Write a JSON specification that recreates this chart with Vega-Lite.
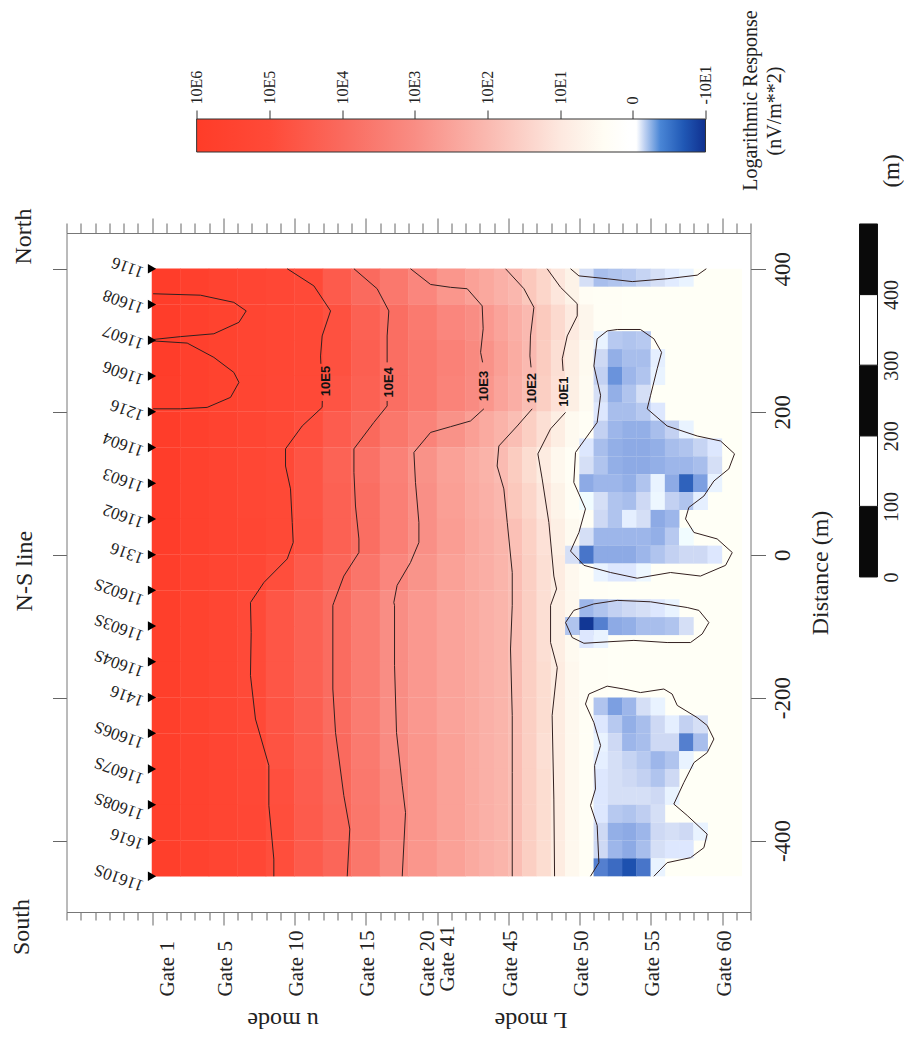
{"$schema":"https://vega.github.io/schema/vega-lite/v6.json","background":"white","padding":{"left":9.5,"top":10,"right":4,"bottom":8},"autosize":{"type":"pad"},"config":{"view":{"stroke":null},"font":"Liberation Serif","axis":{"grid":false,"title":null,"labelFont":"Liberation Serif","titleFont":"Liberation Serif","labelColor":"#222","titleColor":"#222","titleFontWeight":"normal","domainColor":"#777","tickColor":"#666","labelOverlap":false,"labelBound":false,"labelFlush":false},"text":{"font":"Liberation Serif","color":"#222"}},
"datasets":{
"bg":[{"a":39,"b":47.4,"t":400,"u":-450,"v":0.07}],
"red":[
{"p":7,"d":375,"v":5.9},{"p":9,"d":375,"v":5.7},{"p":11,"d":375,"v":5.5},{"p":13,"d":375,"v":5.35},{"p":15,"d":375,"v":5.2},{"p":17,"d":375,"v":5},{"p":19,"d":375,"v":4.5},{"p":21,"d":375,"v":4},{"p":23,"d":375,"v":3.6},{"p":25,"d":375,"v":3.2},{"p":27,"d":375,"v":2.8},
{"p":7,"d":325,"v":5.9},{"p":9,"d":325,"v":5.7},{"p":11,"d":325,"v":5.55},{"p":13,"d":325,"v":5.4},{"p":15,"d":325,"v":5.25},{"p":17,"d":325,"v":5.1},{"p":19,"d":325,"v":4.8},{"p":21,"d":325,"v":4.3},{"p":23,"d":325,"v":3.9},{"p":25,"d":325,"v":3.55},{"p":27,"d":325,"v":3.2},
{"p":7,"d":275,"v":5.9},{"p":9,"d":275,"v":5.7},{"p":11,"d":275,"v":5.55},{"p":13,"d":275,"v":5.4},{"p":15,"d":275,"v":5.25},{"p":17,"d":275,"v":5.1},{"p":19,"d":275,"v":4.8},{"p":21,"d":275,"v":4.35},{"p":23,"d":275,"v":3.9},{"p":25,"d":275,"v":3.6},{"p":27,"d":275,"v":3.35},
{"p":7,"d":225,"v":5.85},{"p":9,"d":225,"v":5.7},{"p":11,"d":225,"v":5.55},{"p":13,"d":225,"v":5.4},{"p":15,"d":225,"v":5.2},{"p":17,"d":225,"v":5.05},{"p":19,"d":225,"v":4.7},{"p":21,"d":225,"v":4.3},{"p":23,"d":225,"v":3.9},{"p":25,"d":225,"v":3.6},{"p":27,"d":225,"v":3.3},
{"p":7,"d":175,"v":5.9},{"p":9,"d":175,"v":5.7},{"p":11,"d":175,"v":5.5},{"p":13,"d":175,"v":5.3},{"p":15,"d":175,"v":5.1},{"p":17,"d":175,"v":4.85},{"p":19,"d":175,"v":4.45},{"p":21,"d":175,"v":4.05},{"p":23,"d":175,"v":3.65},{"p":25,"d":175,"v":3.3},{"p":27,"d":175,"v":2.9},
{"p":7,"d":125,"v":5.9},{"p":9,"d":125,"v":5.65},{"p":11,"d":125,"v":5.45},{"p":13,"d":125,"v":5.25},{"p":15,"d":125,"v":5.05},{"p":17,"d":125,"v":4.7},{"p":19,"d":125,"v":4.25},{"p":21,"d":125,"v":3.8},{"p":23,"d":125,"v":3.35},{"p":25,"d":125,"v":2.9},{"p":27,"d":125,"v":2.55},
{"p":7,"d":75,"v":5.9},{"p":9,"d":75,"v":5.65},{"p":11,"d":75,"v":5.45},{"p":13,"d":75,"v":5.25},{"p":15,"d":75,"v":5.1},{"p":17,"d":75,"v":4.7},{"p":19,"d":75,"v":4.3},{"p":21,"d":75,"v":3.9},{"p":23,"d":75,"v":3.4},{"p":25,"d":75,"v":2.95},{"p":27,"d":75,"v":2.6},
{"p":7,"d":25,"v":5.9},{"p":9,"d":25,"v":5.65},{"p":11,"d":25,"v":5.45},{"p":13,"d":25,"v":5.3},{"p":15,"d":25,"v":5.1},{"p":17,"d":25,"v":4.75},{"p":19,"d":25,"v":4.3},{"p":21,"d":25,"v":3.9},{"p":23,"d":25,"v":3.4},{"p":25,"d":25,"v":2.95},{"p":27,"d":25,"v":2.65},
{"p":7,"d":-25,"v":5.85},{"p":9,"d":-25,"v":5.6},{"p":11,"d":-25,"v":5.4},{"p":13,"d":-25,"v":5.2},{"p":15,"d":-25,"v":4.9},{"p":17,"d":-25,"v":4.5},{"p":19,"d":-25,"v":4.15},{"p":21,"d":-25,"v":3.7},{"p":23,"d":-25,"v":3.2},{"p":25,"d":-25,"v":2.85},{"p":27,"d":-25,"v":2.55},
{"p":7,"d":-75,"v":5.8},{"p":9,"d":-75,"v":5.55},{"p":11,"d":-75,"v":5.3},{"p":13,"d":-75,"v":5},{"p":15,"d":-75,"v":4.65},{"p":17,"d":-75,"v":4.3},{"p":19,"d":-75,"v":3.95},{"p":21,"d":-75,"v":3.5},{"p":23,"d":-75,"v":3},{"p":25,"d":-75,"v":2.75},{"p":27,"d":-75,"v":2.5},
{"p":7,"d":-125,"v":5.8},{"p":9,"d":-125,"v":5.55},{"p":11,"d":-125,"v":5.3},{"p":13,"d":-125,"v":5},{"p":15,"d":-125,"v":4.65},{"p":17,"d":-125,"v":4.3},{"p":19,"d":-125,"v":3.95},{"p":21,"d":-125,"v":3.5},{"p":23,"d":-125,"v":3},{"p":25,"d":-125,"v":2.75},{"p":27,"d":-125,"v":2.5},
{"p":7,"d":-175,"v":5.8},{"p":9,"d":-175,"v":5.55},{"p":11,"d":-175,"v":5.3},{"p":13,"d":-175,"v":5},{"p":15,"d":-175,"v":4.65},{"p":17,"d":-175,"v":4.3},{"p":19,"d":-175,"v":3.95},{"p":21,"d":-175,"v":3.5},{"p":23,"d":-175,"v":3},{"p":25,"d":-175,"v":2.75},{"p":27,"d":-175,"v":2.5},
{"p":7,"d":-225,"v":5.8},{"p":9,"d":-225,"v":5.55},{"p":11,"d":-225,"v":5.3},{"p":13,"d":-225,"v":5.05},{"p":15,"d":-225,"v":4.7},{"p":17,"d":-225,"v":4.35},{"p":19,"d":-225,"v":3.95},{"p":21,"d":-225,"v":3.5},{"p":23,"d":-225,"v":3},{"p":25,"d":-225,"v":2.75},{"p":27,"d":-225,"v":2.5},
{"p":7,"d":-275,"v":5.8},{"p":9,"d":-275,"v":5.6},{"p":11,"d":-275,"v":5.35},{"p":13,"d":-275,"v":5.1},{"p":15,"d":-275,"v":4.75},{"p":17,"d":-275,"v":4.4},{"p":19,"d":-275,"v":4},{"p":21,"d":-275,"v":3.55},{"p":23,"d":-275,"v":3.05},{"p":25,"d":-275,"v":2.8},{"p":27,"d":-275,"v":2.55},
{"p":7,"d":-325,"v":5.8},{"p":9,"d":-325,"v":5.6},{"p":11,"d":-325,"v":5.4},{"p":13,"d":-325,"v":5.15},{"p":15,"d":-325,"v":4.85},{"p":17,"d":-325,"v":4.45},{"p":19,"d":-325,"v":4.05},{"p":21,"d":-325,"v":3.6},{"p":23,"d":-325,"v":3.15},{"p":25,"d":-325,"v":2.8},{"p":27,"d":-325,"v":2.55},
{"p":7,"d":-375,"v":5.8},{"p":9,"d":-375,"v":5.6},{"p":11,"d":-375,"v":5.4},{"p":13,"d":-375,"v":5.2},{"p":15,"d":-375,"v":4.9},{"p":17,"d":-375,"v":4.5},{"p":19,"d":-375,"v":4.1},{"p":21,"d":-375,"v":3.65},{"p":23,"d":-375,"v":3.2},{"p":25,"d":-375,"v":2.8},{"p":27,"d":-375,"v":2.55},
{"p":7,"d":-425,"v":5.8},{"p":9,"d":-425,"v":5.6},{"p":11,"d":-425,"v":5.4},{"p":13,"d":-425,"v":5.2},{"p":15,"d":-425,"v":4.9},{"p":17,"d":-425,"v":4.5},{"p":19,"d":-425,"v":4.15},{"p":21,"d":-425,"v":3.65},{"p":23,"d":-425,"v":3.1},{"p":25,"d":-425,"v":2.8},{"p":27,"d":-425,"v":2.55}],
"mid":[
{"p":28.5,"d":375,"v":2.55},{"p":29.5,"d":375,"v":2.4},{"p":30.5,"d":375,"v":2.2},{"p":31.5,"d":375,"v":2.05},{"p":32.5,"d":375,"v":1.7},{"p":33.5,"d":375,"v":1.4},{"p":34.5,"d":375,"v":1.05},{"p":35.5,"d":375,"v":0.7},{"p":36.5,"d":375,"v":0.4},{"p":37.5,"d":375,"v":0.25},{"p":38.5,"d":375,"v":0.15},
{"p":28.5,"d":325,"v":3},{"p":29.5,"d":325,"v":2.75},{"p":30.5,"d":325,"v":2.5},{"p":31.5,"d":325,"v":2.25},{"p":32.5,"d":325,"v":2},{"p":33.5,"d":325,"v":1.65},{"p":34.5,"d":325,"v":1.3},{"p":35.5,"d":325,"v":0.95},{"p":36.5,"d":325,"v":0.6},{"p":37.5,"d":325,"v":0.3},{"p":38.5,"d":325,"v":0.15},
{"p":28.5,"d":275,"v":3.1},{"p":29.5,"d":275,"v":2.9},{"p":30.5,"d":275,"v":2.6},{"p":31.5,"d":275,"v":2.3},{"p":32.5,"d":275,"v":2},{"p":33.5,"d":275,"v":1.6},{"p":34.5,"d":275,"v":1.2},{"p":35.5,"d":275,"v":0.85},{"p":36.5,"d":275,"v":0.5},{"p":37.5,"d":275,"v":0.2},{"p":38.5,"d":275,"v":0.1},
{"p":28.5,"d":225,"v":3.05},{"p":29.5,"d":225,"v":2.8},{"p":30.5,"d":225,"v":2.5},{"p":31.5,"d":225,"v":2.25},{"p":32.5,"d":225,"v":1.9},{"p":33.5,"d":225,"v":1.55},{"p":34.5,"d":225,"v":1.15},{"p":35.5,"d":225,"v":0.8},{"p":36.5,"d":225,"v":0.45},{"p":37.5,"d":225,"v":0.2},{"p":38.5,"d":225,"v":0.1},
{"p":28.5,"d":175,"v":2.6},{"p":29.5,"d":175,"v":2.35},{"p":30.5,"d":175,"v":2.15},{"p":31.5,"d":175,"v":1.9},{"p":32.5,"d":175,"v":1.55},{"p":33.5,"d":175,"v":1.2},{"p":34.5,"d":175,"v":0.85},{"p":35.5,"d":175,"v":0.5},{"p":36.5,"d":175,"v":0.25},{"p":37.5,"d":175,"v":0.1},{"p":38.5,"d":175,"v":0.08},
{"p":28.5,"d":125,"v":2.3},{"p":29.5,"d":125,"v":2.15},{"p":30.5,"d":125,"v":1.95},{"p":31.5,"d":125,"v":1.6},{"p":32.5,"d":125,"v":1.25},{"p":33.5,"d":125,"v":0.9},{"p":34.5,"d":125,"v":0.55},{"p":35.5,"d":125,"v":0.3},{"p":36.5,"d":125,"v":0.12},{"p":37.5,"d":125,"v":0.08},{"p":38.5,"d":125,"v":0.05},
{"p":28.5,"d":75,"v":2.35},{"p":29.5,"d":75,"v":2.2},{"p":30.5,"d":75,"v":2.05},{"p":31.5,"d":75,"v":1.7},{"p":32.5,"d":75,"v":1.4},{"p":33.5,"d":75,"v":1.05},{"p":34.5,"d":75,"v":0.7},{"p":35.5,"d":75,"v":0.4},{"p":36.5,"d":75,"v":0.2},{"p":37.5,"d":75,"v":0.1},{"p":38.5,"d":75,"v":0.08},
{"p":28.5,"d":25,"v":2.4},{"p":29.5,"d":25,"v":2.25},{"p":30.5,"d":25,"v":2.1},{"p":31.5,"d":25,"v":1.85},{"p":32.5,"d":25,"v":1.5},{"p":33.5,"d":25,"v":1.15},{"p":34.5,"d":25,"v":0.8},{"p":35.5,"d":25,"v":0.5},{"p":36.5,"d":25,"v":0.25},{"p":37.5,"d":25,"v":0.1},{"p":38.5,"d":25,"v":0.08},
{"p":28.5,"d":-25,"v":2.35},{"p":29.5,"d":-25,"v":2.25},{"p":30.5,"d":-25,"v":2.1},{"p":31.5,"d":-25,"v":1.9},{"p":32.5,"d":-25,"v":1.55},{"p":33.5,"d":-25,"v":1.2},{"p":34.5,"d":-25,"v":0.9},{"p":35.5,"d":-25,"v":0.55},{"p":36.5,"d":-25,"v":0.3},{"p":37.5,"d":-25,"v":0.15},{"p":38.5,"d":-25,"v":0.1},
{"p":28.5,"d":-75,"v":2.35},{"p":29.5,"d":-75,"v":2.2},{"p":30.5,"d":-75,"v":2.1},{"p":31.5,"d":-75,"v":1.9},{"p":32.5,"d":-75,"v":1.55},{"p":33.5,"d":-75,"v":1.2},{"p":34.5,"d":-75,"v":0.85},{"p":35.5,"d":-75,"v":0.55},{"p":36.5,"d":-75,"v":0.3},{"p":37.5,"d":-75,"v":0.15},{"p":38.5,"d":-75,"v":0.1},
{"p":28.5,"d":-125,"v":2.35},{"p":29.5,"d":-125,"v":2.2},{"p":30.5,"d":-125,"v":2.1},{"p":31.5,"d":-125,"v":1.9},{"p":32.5,"d":-125,"v":1.55},{"p":33.5,"d":-125,"v":1.2},{"p":34.5,"d":-125,"v":0.85},{"p":35.5,"d":-125,"v":0.5},{"p":36.5,"d":-125,"v":0.3},{"p":37.5,"d":-125,"v":0.15},{"p":38.5,"d":-125,"v":0.1},
{"p":28.5,"d":-175,"v":2.35},{"p":29.5,"d":-175,"v":2.2},{"p":30.5,"d":-175,"v":2.1},{"p":31.5,"d":-175,"v":1.9},{"p":32.5,"d":-175,"v":1.55},{"p":33.5,"d":-175,"v":1.25},{"p":34.5,"d":-175,"v":0.9},{"p":35.5,"d":-175,"v":0.55},{"p":36.5,"d":-175,"v":0.3},{"p":37.5,"d":-175,"v":0.15},{"p":38.5,"d":-175,"v":0.1},
{"p":28.5,"d":-225,"v":2.35},{"p":29.5,"d":-225,"v":2.2},{"p":30.5,"d":-225,"v":2.1},{"p":31.5,"d":-225,"v":1.9},{"p":32.5,"d":-225,"v":1.55},{"p":33.5,"d":-225,"v":1.25},{"p":34.5,"d":-225,"v":0.9},{"p":35.5,"d":-225,"v":0.55},{"p":36.5,"d":-225,"v":0.3},{"p":37.5,"d":-225,"v":0.15},{"p":38.5,"d":-225,"v":0.1},
{"p":28.5,"d":-275,"v":2.35},{"p":29.5,"d":-275,"v":2.2},{"p":30.5,"d":-275,"v":2.1},{"p":31.5,"d":-275,"v":1.9},{"p":32.5,"d":-275,"v":1.55},{"p":33.5,"d":-275,"v":1.2},{"p":34.5,"d":-275,"v":0.9},{"p":35.5,"d":-275,"v":0.55},{"p":36.5,"d":-275,"v":0.3},{"p":37.5,"d":-275,"v":0.15},{"p":38.5,"d":-275,"v":0.1},
{"p":28.5,"d":-325,"v":2.35},{"p":29.5,"d":-325,"v":2.2},{"p":30.5,"d":-325,"v":2.1},{"p":31.5,"d":-325,"v":1.9},{"p":32.5,"d":-325,"v":1.55},{"p":33.5,"d":-325,"v":1.25},{"p":34.5,"d":-325,"v":0.9},{"p":35.5,"d":-325,"v":0.55},{"p":36.5,"d":-325,"v":0.3},{"p":37.5,"d":-325,"v":0.15},{"p":38.5,"d":-325,"v":0.1},
{"p":28.5,"d":-375,"v":2.35},{"p":29.5,"d":-375,"v":2.2},{"p":30.5,"d":-375,"v":2.1},{"p":31.5,"d":-375,"v":1.9},{"p":32.5,"d":-375,"v":1.55},{"p":33.5,"d":-375,"v":1.25},{"p":34.5,"d":-375,"v":0.9},{"p":35.5,"d":-375,"v":0.55},{"p":36.5,"d":-375,"v":0.3},{"p":37.5,"d":-375,"v":0.15},{"p":38.5,"d":-375,"v":0.1},
{"p":28.5,"d":-425,"v":2.35},{"p":29.5,"d":-425,"v":2.2},{"p":30.5,"d":-425,"v":2.1},{"p":31.5,"d":-425,"v":1.9},{"p":32.5,"d":-425,"v":1.55},{"p":33.5,"d":-425,"v":1.25},{"p":34.5,"d":-425,"v":0.9},{"p":35.5,"d":-425,"v":0.55},{"p":36.5,"d":-425,"v":0.3},{"p":37.5,"d":-425,"v":0.15},{"p":38.5,"d":-425,"v":0.1}],
"blue":[
{"p":36.5,"d":387.5,"v":-0.1},{"p":37.5,"d":387.5,"v":-0.22},{"p":38.5,"d":387.5,"v":-0.2},{"p":39.5,"d":387.5,"v":-0.18},{"p":40.5,"d":387.5,"v":-0.14},{"p":41.5,"d":387.5,"v":-0.1},{"p":42.5,"d":387.5,"v":-0.07},{"p":43.5,"d":387.5,"v":-0.05},
{"p":37.5,"d":300,"v":-0.05},{"p":38.5,"d":300,"v":-0.18},{"p":39.5,"d":300,"v":-0.2},{"p":40.5,"d":300,"v":-0.18},
{"p":37.5,"d":275,"v":-0.12},{"p":38.5,"d":275,"v":-0.28},{"p":39.5,"d":275,"v":-0.22},{"p":40.5,"d":275,"v":-0.22},{"p":41.5,"d":275,"v":-0.06},
{"p":37.5,"d":250,"v":-0.15},{"p":38.5,"d":250,"v":-0.4},{"p":39.5,"d":250,"v":-0.25},{"p":40.5,"d":250,"v":-0.2},{"p":41.5,"d":250,"v":-0.05},
{"p":37.5,"d":225,"v":-0.1},{"p":38.5,"d":225,"v":-0.28},{"p":39.5,"d":225,"v":-0.2},{"p":40.5,"d":225,"v":-0.1},
{"p":37.5,"d":200,"v":-0.08},{"p":38.5,"d":200,"v":-0.22},{"p":39.5,"d":200,"v":-0.22},{"p":40.5,"d":200,"v":-0.18},{"p":41.5,"d":200,"v":-0.08},
{"p":37.5,"d":175,"v":-0.15},{"p":38.5,"d":175,"v":-0.25},{"p":39.5,"d":175,"v":-0.28},{"p":40.5,"d":175,"v":-0.28},{"p":41.5,"d":175,"v":-0.22},{"p":42.5,"d":175,"v":-0.15},{"p":43.5,"d":175,"v":-0.05},
{"p":36.5,"d":150,"v":-0.08},{"p":37.5,"d":150,"v":-0.22},{"p":38.5,"d":150,"v":-0.28},{"p":39.5,"d":150,"v":-0.3},{"p":40.5,"d":150,"v":-0.3},{"p":41.5,"d":150,"v":-0.28},{"p":42.5,"d":150,"v":-0.22},{"p":43.5,"d":150,"v":-0.2},{"p":44.5,"d":150,"v":-0.14},{"p":45.5,"d":150,"v":-0.08},
{"p":36.5,"d":125,"v":-0.1},{"p":37.5,"d":125,"v":-0.2},{"p":38.5,"d":125,"v":-0.28},{"p":39.5,"d":125,"v":-0.3},{"p":40.5,"d":125,"v":-0.3},{"p":41.5,"d":125,"v":-0.28},{"p":42.5,"d":125,"v":-0.25},{"p":43.5,"d":125,"v":-0.25},{"p":44.5,"d":125,"v":-0.22},{"p":45.5,"d":125,"v":-0.1},
{"p":36.5,"d":100,"v":-0.3},{"p":37.5,"d":100,"v":-0.25},{"p":38.5,"d":100,"v":-0.25},{"p":39.5,"d":100,"v":-0.28},{"p":40.5,"d":100,"v":-0.2},{"p":41.5,"d":100,"v":-0.05},{"p":42.5,"d":100,"v":-0.3},{"p":43.5,"d":100,"v":-0.65},{"p":44.5,"d":100,"v":-0.35},{"p":45.5,"d":100,"v":-0.05},
{"p":36.5,"d":75,"v":-0.03},{"p":37.5,"d":75,"v":-0.1},{"p":38.5,"d":75,"v":-0.2},{"p":39.5,"d":75,"v":-0.22},{"p":40.5,"d":75,"v":-0.12},{"p":41.5,"d":75,"v":-0.04},{"p":42.5,"d":75,"v":-0.15},{"p":43.5,"d":75,"v":-0.2},{"p":44.5,"d":75,"v":-0.06},
{"p":37.5,"d":50,"v":-0.12},{"p":38.5,"d":50,"v":-0.2},{"p":39.5,"d":50,"v":-0.06},{"p":40.5,"d":50,"v":-0.1},{"p":41.5,"d":50,"v":-0.3},{"p":42.5,"d":50,"v":-0.25},
{"p":36.5,"d":25,"v":-0.1},{"p":37.5,"d":25,"v":-0.25},{"p":38.5,"d":25,"v":-0.25},{"p":39.5,"d":25,"v":-0.25},{"p":40.5,"d":25,"v":-0.25},{"p":41.5,"d":25,"v":-0.28},{"p":42.5,"d":25,"v":-0.18},{"p":43.5,"d":25,"v":-0.03},
{"p":35.5,"d":0,"v":-0.1},{"p":36.5,"d":0,"v":-0.55},{"p":37.5,"d":0,"v":-0.3},{"p":38.5,"d":0,"v":-0.3},{"p":39.5,"d":0,"v":-0.3},{"p":40.5,"d":0,"v":-0.25},{"p":41.5,"d":0,"v":-0.2},{"p":42.5,"d":0,"v":-0.15},{"p":43.5,"d":0,"v":-0.12},{"p":44.5,"d":0,"v":-0.12},{"p":45.5,"d":0,"v":-0.08},
{"p":37.5,"d":-25,"v":-0.05},{"p":38.5,"d":-25,"v":-0.08},{"p":39.5,"d":-25,"v":-0.08},{"p":40.5,"d":-25,"v":-0.04},
{"p":36.5,"d":-75,"v":-0.25},{"p":37.5,"d":-75,"v":-0.2},{"p":38.5,"d":-75,"v":-0.15},{"p":39.5,"d":-75,"v":-0.12},{"p":40.5,"d":-75,"v":-0.1},{"p":41.5,"d":-75,"v":-0.08},{"p":42.5,"d":-75,"v":-0.05},
{"p":35.5,"d":-100,"v":-0.2},{"p":36.5,"d":-100,"v":-0.95},{"p":37.5,"d":-100,"v":-0.5},{"p":38.5,"d":-100,"v":-0.3},{"p":39.5,"d":-100,"v":-0.28},{"p":40.5,"d":-100,"v":-0.22},{"p":41.5,"d":-100,"v":-0.22},{"p":42.5,"d":-100,"v":-0.2},{"p":43.5,"d":-100,"v":-0.1},
{"p":36.5,"d":-118,"v":-0.08},{"p":37.5,"d":-118,"v":-0.05},
{"p":37.5,"d":-212.5,"v":-0.2},{"p":38.5,"d":-212.5,"v":-0.35},{"p":39.5,"d":-212.5,"v":-0.25},{"p":40.5,"d":-212.5,"v":-0.1},{"p":41.5,"d":-212.5,"v":-0.05},
{"p":37.5,"d":-237.5,"v":-0.08},{"p":38.5,"d":-237.5,"v":-0.18},{"p":39.5,"d":-237.5,"v":-0.28},{"p":40.5,"d":-237.5,"v":-0.22},{"p":41.5,"d":-237.5,"v":-0.12},{"p":42.5,"d":-237.5,"v":-0.06},{"p":43.5,"d":-237.5,"v":-0.15},{"p":44.5,"d":-237.5,"v":-0.1},
{"p":37.5,"d":-262.5,"v":-0.05},{"p":38.5,"d":-262.5,"v":-0.12},{"p":39.5,"d":-262.5,"v":-0.25},{"p":40.5,"d":-262.5,"v":-0.22},{"p":41.5,"d":-262.5,"v":-0.12},{"p":42.5,"d":-262.5,"v":-0.12},{"p":43.5,"d":-262.5,"v":-0.5},{"p":44.5,"d":-262.5,"v":-0.22},
{"p":37.5,"d":-287.5,"v":-0.06},{"p":38.5,"d":-287.5,"v":-0.1},{"p":39.5,"d":-287.5,"v":-0.14},{"p":40.5,"d":-287.5,"v":-0.18},{"p":41.5,"d":-287.5,"v":-0.25},{"p":42.5,"d":-287.5,"v":-0.2},{"p":43.5,"d":-287.5,"v":-0.05},
{"p":37.5,"d":-312.5,"v":-0.08},{"p":38.5,"d":-312.5,"v":-0.1},{"p":39.5,"d":-312.5,"v":-0.12},{"p":40.5,"d":-312.5,"v":-0.15},{"p":41.5,"d":-312.5,"v":-0.2},{"p":42.5,"d":-312.5,"v":-0.12},
{"p":37.5,"d":-337.5,"v":-0.08},{"p":38.5,"d":-337.5,"v":-0.1},{"p":39.5,"d":-337.5,"v":-0.1},{"p":40.5,"d":-337.5,"v":-0.1},{"p":41.5,"d":-337.5,"v":-0.12},{"p":42.5,"d":-337.5,"v":-0.05},
{"p":37.5,"d":-362.5,"v":-0.08},{"p":38.5,"d":-362.5,"v":-0.18},{"p":39.5,"d":-362.5,"v":-0.2},{"p":40.5,"d":-362.5,"v":-0.16},{"p":41.5,"d":-362.5,"v":-0.1},
{"p":37.5,"d":-387.5,"v":-0.12},{"p":38.5,"d":-387.5,"v":-0.28},{"p":39.5,"d":-387.5,"v":-0.3},{"p":40.5,"d":-387.5,"v":-0.25},{"p":41.5,"d":-387.5,"v":-0.12},{"p":42.5,"d":-387.5,"v":-0.1},{"p":43.5,"d":-387.5,"v":-0.12},{"p":44.5,"d":-387.5,"v":-0.05},
{"p":37.5,"d":-412.5,"v":-0.12},{"p":38.5,"d":-412.5,"v":-0.25},{"p":39.5,"d":-412.5,"v":-0.3},{"p":40.5,"d":-412.5,"v":-0.22},{"p":41.5,"d":-412.5,"v":-0.1},{"p":42.5,"d":-412.5,"v":-0.08},{"p":43.5,"d":-412.5,"v":-0.08},
{"p":37.5,"d":-437.5,"v":-0.5},{"p":38.5,"d":-437.5,"v":-0.6},{"p":39.5,"d":-437.5,"v":-0.75},{"p":40.5,"d":-437.5,"v":-0.55},{"p":41.5,"d":-437.5,"v":-0.05}],
"contours":[
{"c":"e6a","i":0,"p":6.08,"d":365},{"c":"e6a","i":1,"p":9.4,"d":363},{"c":"e6a","i":2,"p":11.74,"d":353},{"c":"e6a","i":3,"p":12.61,"d":341},{"c":"e6a","i":4,"p":12.1,"d":325},{"c":"e6a","i":5,"p":10.34,"d":309},{"c":"e6a","i":6,"p":8,"d":305},{"c":"e6a","i":7,"p":6.08,"d":301},
{"c":"e6b","i":0,"p":6.08,"d":299},{"c":"e6b","i":1,"p":8.47,"d":296},{"c":"e6b","i":2,"p":10.34,"d":276},{"c":"e6b","i":3,"p":11.74,"d":255},{"c":"e6b","i":4,"p":12.1,"d":241},{"c":"e6b","i":5,"p":11.51,"d":220},{"c":"e6b","i":6,"p":9.87,"d":206},{"c":"e6b","i":7,"p":8,"d":204},{"c":"e6b","i":8,"p":6.08,"d":204},
{"c":"e5a","i":0,"p":15.49,"d":400},{"c":"e5a","i":1,"p":17.36,"d":376},{"c":"e5a","i":2,"p":18.53,"d":341},{"c":"e5a","i":3,"p":17.94,"d":306},{"c":"e5a","i":4,"p":17.83,"d":278},{"c":"e5a","i":5,"p":17.85,"d":267},
{"c":"e5b","i":0,"p":17.95,"d":215},{"c":"e5b","i":1,"p":17.94,"d":206},{"c":"e5b","i":2,"p":16.54,"d":180},{"c":"e5b","i":3,"p":15.37,"d":148},{"c":"e5b","i":4,"p":15.37,"d":124},{"c":"e5b","i":5,"p":15.72,"d":92},{"c":"e5b","i":6,"p":15.84,"d":45},{"c":"e5b","i":7,"p":15.91,"d":17},{"c":"e5b","i":8,"p":15.49,"d":-6},{"c":"e5b","i":9,"p":13.85,"d":-39},{"c":"e5b","i":10,"p":12.91,"d":-67},{"c":"e5b","i":11,"p":12.96,"d":-109},{"c":"e5b","i":12,"p":12.91,"d":-169},{"c":"e5b","i":13,"p":13.26,"d":-230},{"c":"e5b","i":14,"p":14.2,"d":-295},{"c":"e5b","i":15,"p":14.2,"d":-351},{"c":"e5b","i":16,"p":14.55,"d":-426},{"c":"e5b","i":17,"p":14.55,"d":-450},
{"c":"e4a","i":0,"p":20.17,"d":400},{"c":"e4a","i":1,"p":21.8,"d":372},{"c":"e4a","i":2,"p":22.62,"d":341},{"c":"e4a","i":3,"p":22.5,"d":306},{"c":"e4a","i":4,"p":22.5,"d":269},
{"c":"e4b","i":0,"p":22.5,"d":215},{"c":"e4b","i":1,"p":22.5,"d":208},{"c":"e4b","i":2,"p":21.57,"d":185},{"c":"e4b","i":3,"p":20.17,"d":148},{"c":"e4b","i":4,"p":20.17,"d":115},{"c":"e4b","i":5,"p":20.28,"d":68},{"c":"e4b","i":6,"p":20.52,"d":22},{"c":"e4b","i":7,"p":20.52,"d":3},{"c":"e4b","i":8,"p":19.46,"d":-30},{"c":"e4b","i":9,"p":18.76,"d":-67},{"c":"e4b","i":10,"p":18.69,"d":-71},{"c":"e4b","i":11,"p":18.69,"d":-188},{"c":"e4b","i":12,"p":18.88,"d":-249},{"c":"e4b","i":13,"p":19.46,"d":-337},{"c":"e4b","i":14,"p":19.88,"d":-384},{"c":"e4b","i":15,"p":19.7,"d":-450},
{"c":"e3a","i":0,"p":24.14,"d":400},{"c":"e3a","i":1,"p":25.55,"d":378},{"c":"e3a","i":2,"p":26.95,"d":374},{"c":"e3a","i":3,"p":28.12,"d":372},{"c":"e3a","i":4,"p":29.17,"d":348},{"c":"e3a","i":5,"p":29.24,"d":316},{"c":"e3a","i":6,"p":29.06,"d":283},{"c":"e3a","i":7,"p":29.2,"d":269},
{"c":"e3b","i":0,"p":29.29,"d":204},{"c":"e3b","i":1,"p":28.35,"d":187},{"c":"e3b","i":2,"p":26.95,"d":179},{"c":"e3b","i":3,"p":25.55,"d":171},{"c":"e3b","i":4,"p":24.38,"d":143},{"c":"e3b","i":5,"p":24.49,"d":101},{"c":"e3b","i":6,"p":24.73,"d":45},{"c":"e3b","i":7,"p":24.73,"d":17},{"c":"e3b","i":8,"p":24.14,"d":-11},{"c":"e3b","i":9,"p":23.2,"d":-43},{"c":"e3b","i":10,"p":22.97,"d":-67},{"c":"e3b","i":11,"p":23.02,"d":-71},{"c":"e3b","i":12,"p":23.02,"d":-155},{"c":"e3b","i":13,"p":23.16,"d":-249},{"c":"e3b","i":14,"p":23.56,"d":-323},{"c":"e3b","i":15,"p":23.79,"d":-361},{"c":"e3b","i":16,"p":23.56,"d":-450},
{"c":"e2a","i":0,"p":30.81,"d":400},{"c":"e2a","i":1,"p":32.1,"d":372},{"c":"e2a","i":2,"p":32.8,"d":346},{"c":"e2a","i":3,"p":32.56,"d":306},{"c":"e2a","i":4,"p":32.52,"d":278},{"c":"e2a","i":5,"p":32.6,"d":262},
{"c":"e2b","i":0,"p":32.68,"d":204},{"c":"e2b","i":1,"p":31.63,"d":180},{"c":"e2b","i":2,"p":30.34,"d":152},{"c":"e2b","i":3,"p":30.22,"d":124},{"c":"e2b","i":4,"p":30.69,"d":92},{"c":"e2b","i":5,"p":30.93,"d":45},{"c":"e2b","i":6,"p":31.28,"d":-25},{"c":"e2b","i":7,"p":31.28,"d":-71},{"c":"e2b","i":8,"p":31.16,"d":-132},{"c":"e2b","i":9,"p":31.28,"d":-225},{"c":"e2b","i":10,"p":31.28,"d":-305},{"c":"e2b","i":11,"p":31.28,"d":-450},
{"c":"e1a","i":0,"p":33.73,"d":400},{"c":"e1a","i":1,"p":34.67,"d":374},{"c":"e1a","i":2,"p":35.84,"d":351},{"c":"e1a","i":3,"p":35.84,"d":334},{"c":"e1a","i":4,"p":35.14,"d":306},{"c":"e1a","i":5,"p":34.79,"d":274},{"c":"e1a","i":6,"p":34.85,"d":257},
{"c":"e1b","i":0,"p":35.02,"d":199},{"c":"e1b","i":1,"p":33.97,"d":176},{"c":"e1b","i":2,"p":33.08,"d":141},{"c":"e1b","i":3,"p":33.38,"d":106},{"c":"e1b","i":4,"p":33.85,"d":45},{"c":"e1b","i":5,"p":34.2,"d":-30},{"c":"e1b","i":6,"p":34.39,"d":-48},{"c":"e1b","i":7,"p":33.97,"d":-71},{"c":"e1b","i":8,"p":33.97,"d":-123},{"c":"e1b","i":9,"p":34.44,"d":-158},{"c":"e1b","i":10,"p":34.08,"d":-225},{"c":"e1b","i":11,"p":34.2,"d":-342},{"c":"e1b","i":12,"p":34.25,"d":-450},
{"c":"z1","i":0,"p":35.37,"d":400},{"c":"z1","i":1,"p":35.96,"d":390},{"c":"z1","i":2,"p":37.94,"d":386},{"c":"z1","i":3,"p":39.7,"d":382},{"c":"z1","i":4,"p":42.15,"d":386},{"c":"z1","i":5,"p":44.26,"d":391},{"c":"z1","i":6,"p":44.9,"d":400},
{"c":"z2","i":0,"p":38.65,"d":315},{"c":"z2","i":1,"p":40.28,"d":315},{"c":"z2","i":2,"p":41.22,"d":302},{"c":"z2","i":3,"p":41.76,"d":283},{"c":"z2","i":4,"p":41.45,"d":260},{"c":"z2","i":5,"p":40.99,"d":223},{"c":"z2","i":6,"p":40.75,"d":204},{"c":"z2","i":7,"p":42.15,"d":180},{"c":"z2","i":8,"p":44.26,"d":166},{"c":"z2","i":9,"p":45.9,"d":159},{"c":"z2","i":10,"p":46.88,"d":141},{"c":"z2","i":11,"p":46.48,"d":120},{"c":"z2","i":12,"p":45.43,"d":103},{"c":"z2","i":13,"p":44.73,"d":82},{"c":"z2","i":14,"p":43.67,"d":66},{"c":"z2","i":15,"p":43.44,"d":50},{"c":"z2","i":16,"p":44.03,"d":31},{"c":"z2","i":17,"p":45.66,"d":22},{"c":"z2","i":18,"p":46.72,"d":3},{"c":"z2","i":19,"p":46.25,"d":-15},{"c":"z2","i":20,"p":44.49,"d":-30},{"c":"z2","i":21,"p":42.39,"d":-25},{"c":"z2","i":22,"p":40.05,"d":-33},{"c":"z2","i":23,"p":38.18,"d":-25},{"c":"z2","i":24,"p":36.31,"d":-15},{"c":"z2","i":25,"p":35.37,"d":5},{"c":"z2","i":26,"p":35.96,"d":31},{"c":"z2","i":27,"p":36.42,"d":64},{"c":"z2","i":28,"p":35.6,"d":101},{"c":"z2","i":29,"p":35.72,"d":143},{"c":"z2","i":30,"p":37.24,"d":185},{"c":"z2","i":31,"p":37.48,"d":223},{"c":"z2","i":32,"p":37.01,"d":264},{"c":"z2","i":33,"p":37.24,"d":302},{"c":"z2","i":34,"p":37.94,"d":313},{"c":"z2","i":35,"p":38.65,"d":315},
{"c":"z3","i":0,"p":35.02,"d":-95},{"c":"z3","i":1,"p":35.6,"d":-78},{"c":"z3","i":2,"p":37,"d":-69},{"c":"z3","i":3,"p":38.65,"d":-64},{"c":"z3","i":4,"p":40.99,"d":-66},{"c":"z3","i":5,"p":43.56,"d":-74},{"c":"z3","i":6,"p":44.38,"d":-78},{"c":"z3","i":7,"p":45.08,"d":-95},{"c":"z3","i":8,"p":44.61,"d":-111},{"c":"z3","i":9,"p":43.79,"d":-123},{"c":"z3","i":10,"p":42.15,"d":-123},{"c":"z3","i":11,"p":39.82,"d":-120},{"c":"z3","i":12,"p":37.94,"d":-122},{"c":"z3","i":13,"p":36.31,"d":-124},{"c":"z3","i":14,"p":35.49,"d":-116},{"c":"z3","i":15,"p":35.02,"d":-95},
{"c":"z4","i":0,"p":36.77,"d":-450},{"c":"z4","i":1,"p":37.36,"d":-431},{"c":"z4","i":2,"p":37.24,"d":-379},{"c":"z4","i":3,"p":36.77,"d":-351},{"c":"z4","i":4,"p":37.12,"d":-328},{"c":"z4","i":5,"p":37.06,"d":-295},{"c":"z4","i":6,"p":37.48,"d":-267},{"c":"z4","i":7,"p":37.01,"d":-235},{"c":"z4","i":8,"p":36.42,"d":-209},{"c":"z4","i":9,"p":36.66,"d":-195},{"c":"z4","i":10,"p":37.94,"d":-184},{"c":"z4","i":11,"p":39.11,"d":-188},{"c":"z4","i":12,"p":40.28,"d":-193},{"c":"z4","i":13,"p":41.92,"d":-188},{"c":"z4","i":14,"p":42.5,"d":-195},{"c":"z4","i":15,"p":42.86,"d":-211},{"c":"z4","i":16,"p":44.26,"d":-228},{"c":"z4","i":17,"p":44.96,"d":-239},{"c":"z4","i":18,"p":45.43,"d":-258},{"c":"z4","i":19,"p":44.96,"d":-277},{"c":"z4","i":20,"p":44.03,"d":-291},{"c":"z4","i":21,"p":43.32,"d":-319},{"c":"z4","i":22,"p":42.62,"d":-349},{"c":"z4","i":23,"p":43.56,"d":-365},{"c":"z4","i":24,"p":44.96,"d":-391},{"c":"z4","i":25,"p":44.73,"d":-410},{"c":"z4","i":26,"p":43.79,"d":-424},{"c":"z4","i":27,"p":42.15,"d":-431},{"c":"z4","i":28,"p":41.22,"d":-450}],
"stations":[{"s":"1116","d":400},{"s":"11608","d":350},{"s":"11607","d":300},{"s":"11606","d":250},{"s":"1216","d":200},{"s":"11604","d":150},{"s":"11603","d":100},{"s":"11602","d":50},{"s":"1316","d":0},{"s":"11602S","d":-50},{"s":"11603S","d":-100},{"s":"11604S","d":-150},{"s":"1416","d":-200},{"s":"11606S","d":-250},{"s":"11607S","d":-300},{"s":"11608S","d":-350},{"s":"1616","d":-400},{"s":"11610S","d":-450}]},
"vconcat":[
{"width":639,"height":33,"resolve":{"axis":{"x":"independent","y":"independent"}},"layer":[
{"data":{"values":[{"a":6,"b":-1}]},"mark":{"type":"rect","stroke":"#333","strokeWidth":1,"color":{"gradient":"linear","x1":0,"y1":0,"x2":1,"y2":0,"stops":[{"offset":0,"color":"#ff3c28"},{"offset":0.143,"color":"#ff4a38"},{"offset":0.286,"color":"#fa6a5e"},{"offset":0.429,"color":"#f98d84"},{"offset":0.571,"color":"#fab9b0"},{"offset":0.714,"color":"#fde8df"},{"offset":0.8,"color":"#fffdf4"},{"offset":0.85,"color":"#ffffff"},{"offset":0.864,"color":"#ffffff"},{"offset":0.88,"color":"#c0d2f2"},{"offset":0.911,"color":"#4a86d6"},{"offset":0.957,"color":"#2058b5"},{"offset":1,"color":"#10308f"}]}},
"encoding":{"x":{"field":"a","type":"quantitative","scale":{"domain":[7.79,-1],"nice":false,"zero":false},"axis":{"orient":"top","values":[6,5,4,3,2,1,0,-1],"domain":false,"tickSize":9,"tickColor":"#333","labelAngle":270,"labelAlign":"left","labelBaseline":"middle","labelPadding":6,"labelFontSize":16,"labelExpr":"datum.value==0?'0':datum.value==-1?'-10E1':'10E'+datum.value"}},"x2":{"field":"b"}}},
{"data":{"values":[{"t":"Logarithmic Response","a":-1.62,"h":51.5},{"t":"(nV/m**2)","a":-1.95,"h":41}]},"mark":{"type":"text","angle":270,"fontSize":20,"align":"center","baseline":"middle"},
"encoding":{"x":{"field":"a","type":"quantitative","scale":{"domain":[7.79,-1],"nice":false,"zero":false},"axis":null},"y":{"field":"h","type":"quantitative","scale":{"domain":[0,33],"nice":false,"zero":false},"axis":null},"text":{"field":"t"}}}]},
{"hconcat":[
{"width":684,"height":679,"resolve":{"axis":{"x":"independent","y":"independent"}},"layer":[
{"data":{"name":"bg"},"mark":{"type":"rect"},"encoding":{
"x":{"field":"a","type":"quantitative","scale":{"domain":[0,48],"nice":false,"zero":false},"axis":{"orient":"bottom","values":[0,1,2,3,4,5,6,7,8,9,10,11,12,13,14,15,16,17,18,19,20,21,22,23,24,25,26,27,28,29,30,31,32,33,34,35,36,37,38,39,40,41,42,43,44,45,46,47,48],"tickSize":{"condition":{"test":"datum.value>=6&&datum.value<=46&&(datum.value-1)%5==0","value":13},"value":8},"labelAngle":270,"labelAlign":"left","labelBaseline":"middle","labelPadding":71,"labelFontSize":21,"labelOffset":{"condition":[{"test":"datum.value==6","value":15},{"test":"datum.value==26","value":-9.5},{"test":"datum.value==27","value":-4}],"value":2},"labelExpr":"datum.value==6?'Gate 1':datum.value==11?'Gate 5':datum.value==16?'Gate 10':datum.value==21?'Gate 15':datum.value==26?'Gate 20':datum.value==27?'Gate 41':datum.value==31?'Gate 45':datum.value==36?'Gate 50':datum.value==41?'Gate 55':datum.value==46?'Gate 60':''"}},"x2":{"field":"b"},
"y":{"field":"t","type":"quantitative","scale":{"domain":[-500,450],"nice":false,"zero":false},"axis":{"orient":"right","values":[-400,-200,0,200,400],"tickSize":15,"labelAngle":270,"labelAlign":"center","labelBaseline":"middle","labelPadding":17,"labelFontSize":23,"labelExpr":"''+datum.value","title":"Distance (m)","titleFontSize":24,"titleAngle":270,"titlePadding":26,"titleAlign":"center","titleBaseline":"middle"}},"y2":{"field":"u"},
"color":{"field":"v","type":"quantitative","legend":null,"scale":{"domain":[6,5,4,3,2,1,0.4,0.05,-0.02,-0.1,-0.25,-0.4,-0.7,-1],"range":["#ff3c28","#ff4a38","#fa6a5e","#f98d84","#fab9b0","#fde8df","#fffdf4","#ffffff","#ffffff","#d5dff6","#9db6ea","#6a93dc","#2058b5","#10308f"]}}}},
{"data":{"name":"red"},"mark":{"type":"rect","width":29,"height":36},"encoding":{"x":{"field":"p","type":"quantitative","scale":{"domain":[0,48],"nice":false,"zero":false},"axis":null},"y":{"field":"d","type":"quantitative","scale":{"domain":[-500,450],"nice":false,"zero":false},"axis":null},"color":{"field":"v","type":"quantitative","legend":null}}},
{"data":{"name":"mid"},"mark":{"type":"rect","width":14.6,"height":36},"encoding":{"x":{"field":"p","type":"quantitative","scale":{"domain":[0,48],"nice":false,"zero":false},"axis":null},"y":{"field":"d","type":"quantitative","scale":{"domain":[-500,450],"nice":false,"zero":false},"axis":null},"color":{"field":"v","type":"quantitative","legend":null}}},
{"data":{"name":"blue"},"mark":{"type":"rect","width":14.6,"height":18},"encoding":{"x":{"field":"p","type":"quantitative","scale":{"domain":[0,48],"nice":false,"zero":false},"axis":null},"y":{"field":"d","type":"quantitative","scale":{"domain":[-500,450],"nice":false,"zero":false},"axis":null},"color":{"field":"v","type":"quantitative","legend":null}}},
{"data":{"name":"contours"},"mark":{"type":"line","color":"#33201f","strokeWidth":1},"encoding":{"x":{"field":"p","type":"quantitative","scale":{"domain":[0,48],"nice":false,"zero":false},"axis":{"orient":"top","values":[0,1,2,3,4,5,6,7,8,9,10,11,12,13,14,15,16,17,18,19,20,21,22,23,24,25,26,27,28,29,30,31,32,33,34,35,36,37,38,39,40,41,42,43,44,45,46,47,48],"labels":false,"tickSize":{"condition":{"test":"datum.value>=6&&datum.value<=46&&(datum.value-1)%5==0","value":15},"value":10}}},"y":{"field":"d","type":"quantitative","scale":{"domain":[-500,450],"nice":false,"zero":false},"axis":{"orient":"left","values":[-400,-200,0,200,400],"labels":false,"tickSize":14}},"detail":{"field":"c"},"order":{"field":"i"}}},
{"data":{"name":"stations"},"mark":{"type":"point","shape":"triangle-right","filled":true,"color":"#000","size":90,"opacity":1},"encoding":{"x":{"datum":6,"type":"quantitative","scale":{"domain":[0,48],"nice":false,"zero":false},"axis":null},"y":{"field":"d","type":"quantitative","scale":{"domain":[-500,450],"nice":false,"zero":false},"axis":null}}},
{"data":{"name":"stations"},"transform":[{"filter":"!test(/S$/,datum.s)"}],"mark":{"type":"text","angle":200,"align":"left","baseline":"middle","fontSize":17,"dx":7.1,"dy":-6.8},"encoding":{"x":{"datum":6,"type":"quantitative","scale":{"domain":[0,48],"nice":false,"zero":false},"axis":null},"y":{"field":"d","type":"quantitative","scale":{"domain":[-500,450],"nice":false,"zero":false},"axis":null},"text":{"field":"s"}}},
{"data":{"name":"stations"},"transform":[{"filter":"test(/S$/,datum.s)"}],"mark":{"type":"text","angle":200,"align":"left","baseline":"middle","fontSize":17,"dx":5,"dy":-12.5},"encoding":{"x":{"datum":6,"type":"quantitative","scale":{"domain":[0,48],"nice":false,"zero":false},"axis":null},"y":{"field":"d","type":"quantitative","scale":{"domain":[-500,450],"nice":false,"zero":false},"axis":null},"text":{"field":"s"}}},
{"data":{"values":[{"t":"10E5","p":18.2,"d":243},{"t":"10E4","p":22.6,"d":241},{"t":"10E3","p":29.3,"d":236},{"t":"10E2","p":32.65,"d":233},{"t":"10E1","p":34.9,"d":228}]},"mark":{"type":"text","font":"Liberation Sans","fontWeight":"bold","fontSize":13,"angle":270,"align":"center","baseline":"middle","color":"#111"},"encoding":{"x":{"field":"p","type":"quantitative","scale":{"domain":[0,48],"nice":false,"zero":false},"axis":null},"y":{"field":"d","type":"quantitative","scale":{"domain":[-500,450],"nice":false,"zero":false},"axis":null},"text":{"field":"t"}}},
{"data":{"values":[{"t":"South","p":-3.09,"d":-521},{"t":"N-S line","p":-2.9,"d":-23},{"t":"North","p":-3,"d":445}]},"mark":{"type":"text","angle":270,"align":"center","baseline":"middle","fontSize":24},"encoding":{"x":{"field":"p","type":"quantitative","scale":{"domain":[0,48],"nice":false,"zero":false},"axis":null},"y":{"field":"d","type":"quantitative","scale":{"domain":[-500,450],"nice":false,"zero":false},"axis":null},"text":{"field":"t"}}},
{"data":{"values":[{"t":"u mode","p":15.2,"d":-651},{"t":"L mode","p":32.6,"d":-651}]},"mark":{"type":"text","angle":180,"align":"center","baseline":"middle","fontSize":24},"encoding":{"x":{"field":"p","type":"quantitative","scale":{"domain":[0,48],"nice":false,"zero":false},"axis":null},"y":{"field":"d","type":"quantitative","scale":{"domain":[-500,450],"nice":false,"zero":false},"axis":null},"text":{"field":"t"}}}
]},
{"width":18,"height":679,"resolve":{"axis":{"x":"independent","y":"independent"}},"layer":[
{"data":{"values":[{"a":0,"b":100,"k":"black"},{"a":100,"b":200,"k":"white"},{"a":200,"b":300,"k":"black"},{"a":300,"b":400,"k":"white"},{"a":400,"b":500,"k":"black"}]},"mark":{"type":"rect","stroke":"#111","strokeWidth":1},"encoding":{"y":{"field":"a","type":"quantitative","scale":{"domain":[-474.5,487.2],"nice":false,"zero":false},"axis":{"orient":"right","values":[0,100,200,300,400,500],"ticks":false,"domain":false,"labelAngle":270,"labelAlign":"center","labelBaseline":"middle","labelPadding":14,"labelFontSize":20}},"y2":{"field":"b"},"color":{"field":"k","type":"nominal","legend":null,"scale":{"domain":["black","white"],"range":["#0a0a0a","#ffffff"]}}}},
{"data":{"values":[{"t":"(m)","h":575,"w":1.83}]},"mark":{"type":"text","angle":270,"align":"center","baseline":"middle","fontSize":23},"encoding":{"y":{"field":"h","type":"quantitative","scale":{"domain":[-474.5,487.2],"nice":false,"zero":false},"axis":null},"x":{"field":"w","type":"quantitative","scale":{"domain":[0,1],"nice":false,"zero":false},"axis":null},"text":{"field":"t"}}}]}
],"spacing":109,"bounds":"flush"}
],"spacing":81,"bounds":"flush"}
